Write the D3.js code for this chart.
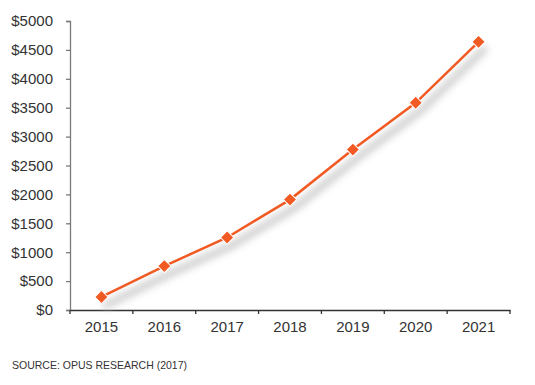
<!DOCTYPE html>
<html>
<head>
<meta charset="utf-8">
<script src="https://cdn.jsdelivr.net/npm/d3@7"></script>
<style>
  body { margin: 0; background: #fff; }
  svg { display: block; font-family: "Liberation Sans", Arial, Helvetica, sans-serif; }
</style>
</head>
<body>
<svg id="chart" width="535" height="385"></svg>
<script>
// Chart data
const years = ["2015", "2016", "2017", "2018", "2019", "2020", "2021"];
const revenue = [225, 760, 1255, 1910, 2775, 3585, 4640];
const yTicks = [0, 500, 1000, 1500, 2000, 2500, 3000, 3500, 4000, 4500, 5000];
const sourceNote = "SOURCE: OPUS RESEARCH (2017)";

const data = years.map((y, i) => ({year: y, value: revenue[i]}));

// Plot area
let margin = {top: 21, right: 25, bottom: 75, left: 70},
    width = 535 - margin.left - margin.right,
    height = 385 - margin.top - margin.bottom;

const svg = d3.select("#chart");
const g = svg.append("g").attr("transform", "translate(" + margin.left + "," + margin.top + ")");

// Scales
let x = d3.scaleBand().domain(years).range([0, width]).padding(0);
let y = d3.scaleLinear().domain([0, 5000]).range([height, 0]);

// Soft shadow under the line
const defs = svg.append("defs");
defs.append("filter")
    .attr("id", "blur")
    .attr("x", "-10%").attr("y", "-10%").attr("width", "120%").attr("height", "120%")
  .append("feGaussianBlur")
    .attr("stdDeviation", 3.5);

// Y axis
const yAxis = g.append("g")
    .call(d3.axisLeft(y).tickValues(yTicks).tickSize(4).tickPadding(13).tickFormat(d => "$" + d));
yAxis.selectAll("path, line").attr("stroke", "#7a7a7a").attr("stroke-width", 1.3);
yAxis.selectAll("text").attr("fill", "#333").style("font-size", "15px");

// X axis: ticks on band edges, labels at band centres
const xAxis = g.append("g")
    .attr("transform", "translate(0," + height + ")")
    .call(d3.axisBottom(x).tickSize(0).tickPadding(11));
xAxis.select(".domain").attr("stroke", "#333").attr("stroke-width", 1.3);
xAxis.selectAll("text").attr("fill", "#333").style("font-size", "15px");

g.append("g").selectAll("line")
    .data(years.concat(["end"]))
    .enter().append("line")
    .attr("x1", (d, i) => i * x.step())
    .attr("x2", (d, i) => i * x.step())
    .attr("y1", height)
    .attr("y2", height + 4)
    .attr("stroke", "#333")
    .attr("stroke-width", 1.3);

// Line generator
const line = d3.line()
    .x(d => x(d.year) + x.bandwidth() / 2)
    .y(d => y(d.value));

// shadow
g.append("path")
    .datum(data)
    .attr("d", line)
    .attr("fill", "none")
    .attr("stroke", "#c4c4c4")
    .attr("stroke-width", 8)
    .attr("stroke-linecap", "round")
    .attr("opacity", 0.75)
    .attr("transform", "translate(5,8)")
    .attr("filter", "url(#blur)");

// main line
g.append("path")
    .datum(data)
    .attr("d", line)
    .attr("fill", "none")
    .attr("stroke", "#f15a22")
    .attr("stroke-width", 2.5);

// Diamond markers
g.selectAll(".marker")
    .data(data)
    .enter().append("path")
    .attr("class", "marker")
    .attr("d", d3.symbol().type(d3.symbolSquare).size(88))
    .attr("transform", d => "translate(" + (x(d.year) + x.bandwidth() / 2) + "," + y(d.value) + ") rotate(45)")
    .attr("fill", "#f15a22")
    .attr("stroke", "#fff")
    .attr("stroke-width", 1);

// Source note
svg.append("text")
    .attr("x", 12)
    .attr("y", 369)
    .attr("fill", "#333")
    .style("font-size", "10.5px")
    .text(sourceNote);
</script>
</body>
</html>
